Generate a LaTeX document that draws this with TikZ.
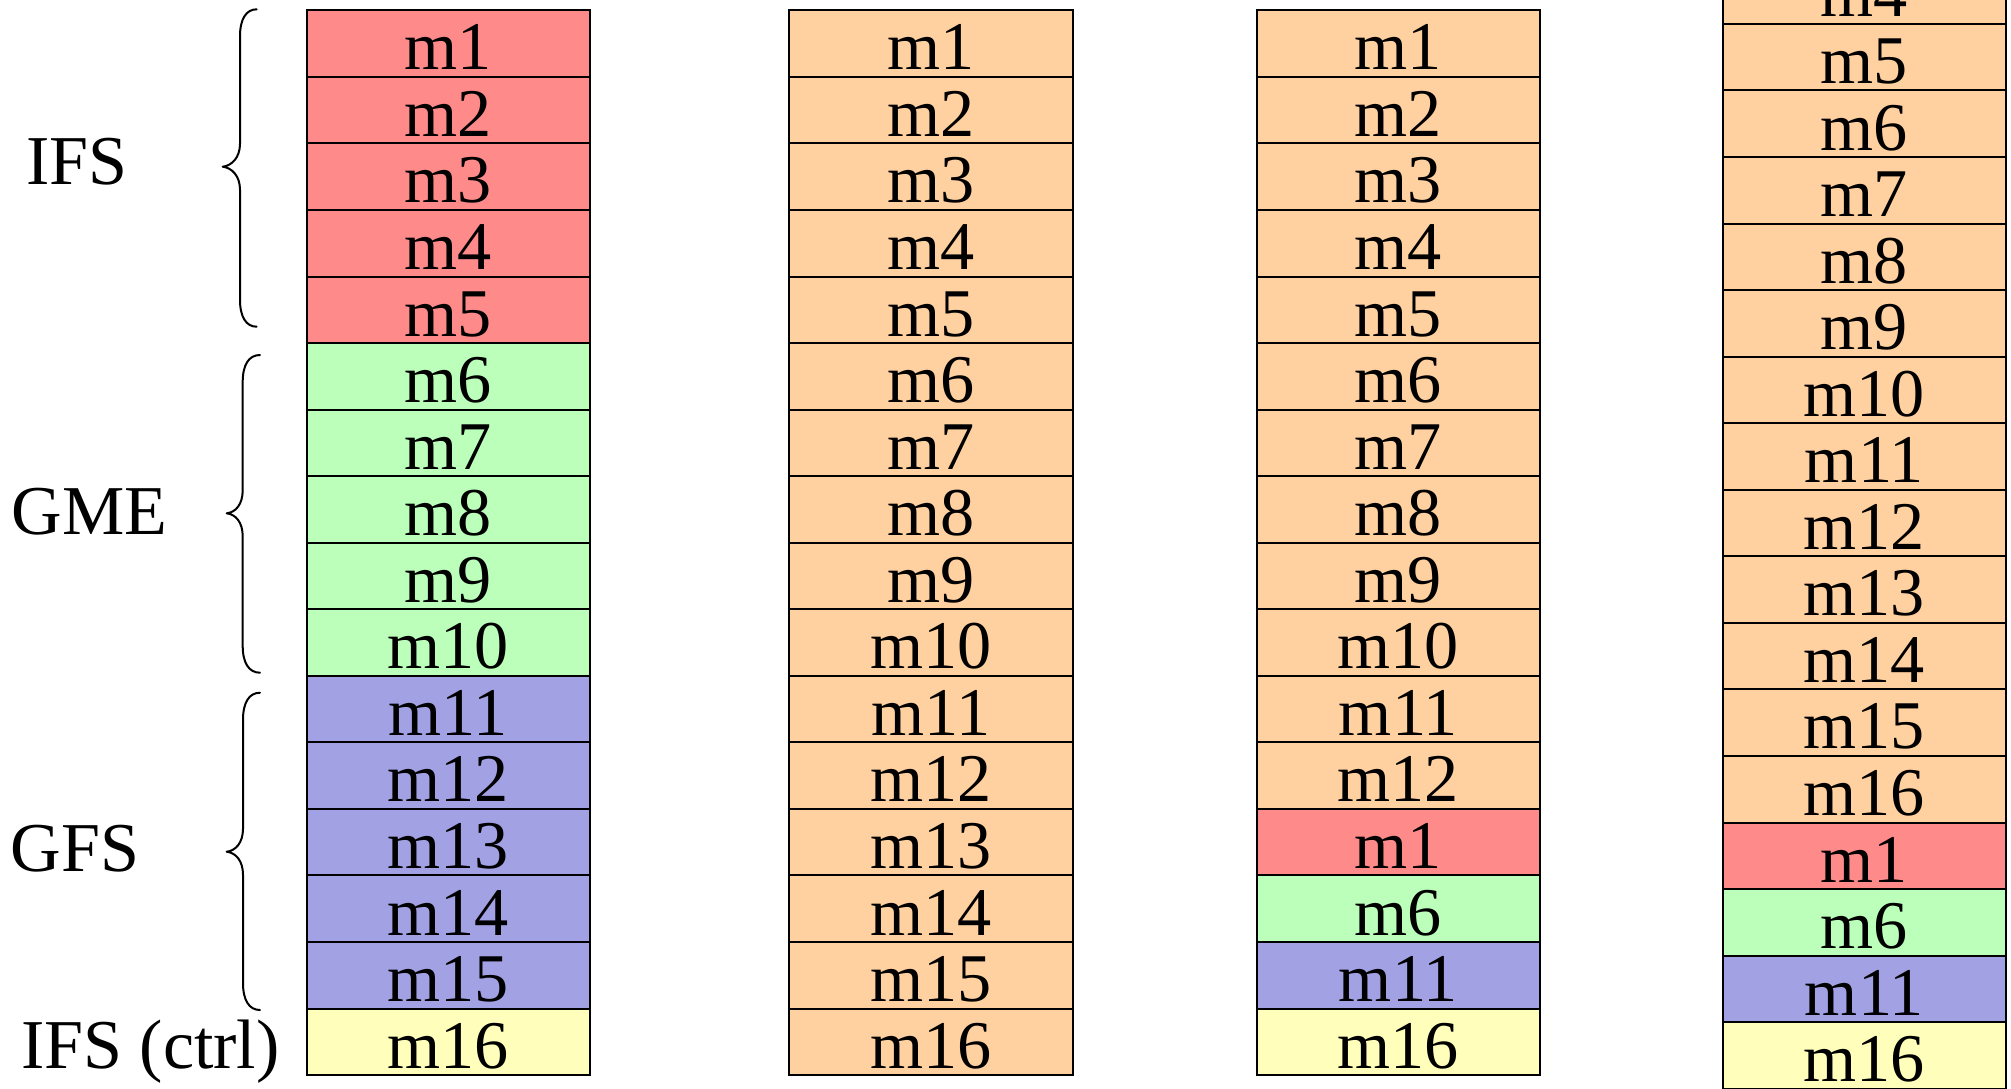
\documentclass[tikz,border=0pt]{standalone}
\usepackage{fontspec}
\setmainfont{Liberation Serif}

\definecolor{mred}{RGB}{255,138,138}
\definecolor{mgreen}{RGB}{187,255,187}
\definecolor{mblue}{RGB}{161,161,228}
\definecolor{myellow}{RGB}{255,255,187}
\definecolor{mpeach}{RGB}{255,208,160}

\begin{document}
\begin{tikzpicture}[x=0.4pt,y=-0.4pt,
  cell/.style={draw=black, line width=0.8pt, rectangle, inner sep=0pt,
    minimum width=113.4pt, text height=23.82pt, text depth=2.8pt,
    font=\fontsize{27.3pt}{32pt}\selectfont},
  grouplabel/.style={inner sep=0pt, font=\fontsize{28pt}{33pt}\selectfont},
  bracestyle/.style={draw=black, line width=0.8pt, line cap=round, line join=round}]

\useasboundingbox (0,0) rectangle (2011,1088);
\clip (0,0) rectangle (2011,1088);
\fill[white] (0,0) rectangle (2011,1088);

% original message layout
\foreach \i/\c in {1/mred,2/mred,3/mred,4/mred,5/mred,
                   6/mgreen,7/mgreen,8/mgreen,9/mgreen,10/mgreen,
                   11/mblue,12/mblue,13/mblue,14/mblue,15/mblue,16/myellow}
  \node[cell,fill=\c] (a\i) at (448.25,{10.3+(\i-0.5)*66.55}) {m\i};

% all messages, uniform
\foreach \i in {1,...,16}
  \node[cell,fill=mpeach] (b\i) at (931,{10.3+(\i-0.5)*66.55}) {m\i};

% first messages followed by group heads
\foreach \i/\t/\c in {1/1/mpeach,2/2/mpeach,3/3/mpeach,4/4/mpeach,5/5/mpeach,
                      6/6/mpeach,7/7/mpeach,8/8/mpeach,9/9/mpeach,10/10/mpeach,
                      11/11/mpeach,12/12/mpeach,13/1/mred,14/6/mgreen,
                      15/11/mblue,16/16/myellow}
  \node[cell,fill=\c] (c\i) at (1398.35,{10.3+(\i-0.5)*66.55}) {m\t};

% all messages followed by group heads (the column runs off the top)
\foreach \i/\t/\c in {4/4/mpeach,5/5/mpeach,
                      6/6/mpeach,7/7/mpeach,8/8/mpeach,9/9/mpeach,10/10/mpeach,
                      11/11/mpeach,12/12/mpeach,13/13/mpeach,14/14/mpeach,
                      15/15/mpeach,16/16/mpeach,17/1/mred,18/6/mgreen,
                      19/11/mblue,20/16/myellow}
  \node[cell,fill=\c] (d\i) at (1864.35,{-242.3+(\i-0.5)*66.55}) {m\t};

% curly braces grouping the first column
\foreach \xe/\xv/\xt/\yt/\ym/\yb in {256.7/240/222.7/9.3/166.7/326.7,
                                     260/242.7/226.7/355/513.3/672.7,
                                     260/243/226.7/692.7/851.7/1010}
  \draw[bracestyle] (\xe,\yt)
      .. controls ({\xv+6},\yt) and (\xv,{\yt+10}) .. (\xv,{\yt+27})
      -- (\xv,{\ym-23})
      .. controls (\xv,{\ym-9}) and ({\xt+9},{\ym-1}) .. (\xt,\ym)
      .. controls ({\xt+9},{\ym+1}) and (\xv,{\ym+9}) .. (\xv,{\ym+23})
      -- (\xv,{\yb-27})
      .. controls (\xv,{\yb-10}) and ({\xv+6},\yb) .. (\xe,\yb);

% group labels
\node[grouplabel] (lifs) at (77,162) {IFS};
\node[grouplabel] (lgme) at (89.5,511.7) {GME};
\node[grouplabel] (lgfs) at (75,849) {GFS};
\node[grouplabel, anchor=base] (lctrl) at (150.4,1068.3) {IFS (ctrl)};

\end{tikzpicture}
\end{document}
